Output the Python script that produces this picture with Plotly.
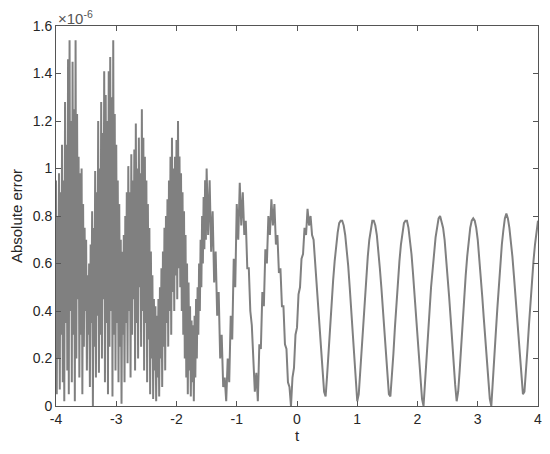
import numpy as np
import plotly.graph_objects as go

# sample times: finer where the error is noisy, then the regular grid
t_noisy = np.arange(-4, -1.5, 0.0125)
t_smooth = np.arange(-1.5, 4.0001, 0.025)
t = np.round(np.concatenate([t_noisy, t_smooth]), 4)

# absolute error (units of 1e-6)
err_noisy_e6 = [
    0.95, 0.05, 0.80, 0.20, 0.98, 0.07, 0.90, 0.30, 1.10, 0.10,
    0.95, 0.02, 1.28, 0.35, 1.10, 0.15, 1.46, 0.05, 1.54, 0.40,
    1.20, 0.10, 1.45, 0.30, 1.25, 0.02, 1.54, 0.20, 1.23, 0.45,
    1.05, 0.12, 0.98, 0.30, 1.00, 0.05, 0.85, 0.25, 0.75, 0.40,
    0.70, 0.15, 0.55, 0.30, 0.60, 0.08, 0.68, 0.35, 0.82, 0.00,
    0.75, 0.25, 0.99, 0.12, 0.90, 0.38, 1.20, 0.14, 1.00, 0.30,
    1.28, 0.20, 1.15, 0.45, 1.41, 0.10, 1.31, 0.35, 1.20, 0.05,
    1.41, 0.25, 1.47, 0.40, 1.30, 0.04, 1.54, 0.30, 1.23, 0.15,
    1.10, 0.35, 0.95, 0.10, 0.85, 0.25, 0.70, 0.01, 0.65, 0.30,
    0.72, 0.10, 0.80, 0.35, 0.90, 0.18, 1.01, 0.40, 0.90, 0.12,
    1.06, 0.30, 0.95, 0.45, 1.08, 0.15, 1.19, 0.35, 1.00, 0.20,
    1.13, 0.50, 0.98, 0.25, 1.25, 0.40, 1.13, 0.15, 1.05, 0.35,
    0.95, 0.10, 0.85, 0.28, 0.75, 0.05, 0.65, 0.20, 0.55, 0.03,
    0.45, 0.15, 0.42, 0.02, 0.38, 0.12, 0.45, 0.04, 0.50, 0.20,
    0.58, 0.08, 0.65, 0.25, 0.75, 0.15, 0.80, 0.35, 0.87, 0.25,
    0.95, 0.40, 1.05, 0.30, 1.13, 0.48, 1.00, 0.40, 1.05, 0.55,
    1.12, 0.45, 1.20, 0.58, 1.05, 0.50, 0.98, 0.40, 0.90, 0.30,
    0.82, 0.20, 0.72, 0.12, 0.60, 0.05, 0.52, 0.15, 0.42, 0.04,
    0.36, 0.10, 0.34, 0.02, 0.38, 0.12, 0.45, 0.20, 0.50, 0.30,
    0.60, 0.40, 0.70, 0.50, 0.80, 0.60, 0.88, 0.66, 0.95, 0.70,
]

err_smooth_e6 = [
    1.00, 0.72, 0.95, 0.65, 0.82, 0.52, 0.65, 0.38, 0.48, 0.20,
    0.30, 0.08, 0.12, 0.02, 0.20, 0.10, 0.38, 0.28, 0.62, 0.50,
    0.85, 0.70, 0.94, 0.76, 0.90, 0.72, 0.78, 0.58, 0.58, 0.40,
    0.34, 0.16, 0.06, 0.14, 0.02, 0.26, 0.24, 0.48, 0.42, 0.66,
    0.60, 0.80, 0.72, 0.87, 0.76, 0.85, 0.68, 0.72, 0.56, 0.58,
    0.42, 0.42, 0.26, 0.24, 0.10, 0.08, 0.00, 0.12, 0.16, 0.30,
    0.33, 0.47, 0.50, 0.62, 0.64, 0.75, 0.72, 0.83, 0.76, 0.80,
    0.72, 0.70, 0.60, 0.55, 0.44, 0.35, 0.25, 0.15, 0.06, 0.04,
    0.13, 0.24, 0.34, 0.44, 0.53, 0.61, 0.68, 0.73, 0.77, 0.78,
    0.78, 0.76, 0.72, 0.66, 0.59, 0.50, 0.41, 0.31, 0.21, 0.11,
    0.02, 0.05, 0.15, 0.26, 0.36, 0.46, 0.55, 0.63, 0.70, 0.75,
    0.78, 0.78, 0.76, 0.72, 0.66, 0.58, 0.50, 0.41, 0.31, 0.21,
    0.12, 0.05, 0.04, 0.12, 0.22, 0.33, 0.43, 0.52, 0.61, 0.68,
    0.74, 0.77, 0.78, 0.78, 0.75, 0.70, 0.64, 0.56, 0.47, 0.38,
    0.28, 0.19, 0.10, 0.03, 0.00, 0.09, 0.19, 0.30, 0.40, 0.50,
    0.58, 0.65, 0.71, 0.75, 0.79, 0.80, 0.78, 0.75, 0.70, 0.63,
    0.55, 0.46, 0.37, 0.27, 0.18, 0.09, 0.02, 0.06, 0.15, 0.26,
    0.36, 0.46, 0.55, 0.63, 0.70, 0.75, 0.78, 0.79, 0.78, 0.75,
    0.70, 0.63, 0.55, 0.46, 0.37, 0.28, 0.19, 0.10, 0.03, 0.00,
    0.09, 0.20, 0.31, 0.41, 0.51, 0.60, 0.68, 0.74, 0.79, 0.81,
    0.79, 0.75, 0.70, 0.63, 0.55, 0.46, 0.37, 0.28, 0.19, 0.11,
    0.05, 0.06, 0.14, 0.24, 0.34, 0.44, 0.53, 0.61, 0.68, 0.74,
    0.78,
]

x_ticks = [-4, -3, -2, -1, 0, 1, 2, 3, 4]
y_ticks = [0, 0.2, 0.4, 0.6, 0.8, 1, 1.2, 1.4, 1.6]

err = np.array(err_noisy_e6 + err_smooth_e6) * 1e-6

fig = go.Figure()
fig.add_trace(go.Scatter(
    x=t, y=err, mode='lines',
    line=dict(color='#808080', width=2),
    showlegend=False
))

font_name = 'Liberation Sans, Arial'
axis_style = dict(
    showline=True, linecolor='#555555', linewidth=1, mirror='ticks',
    ticks='inside', ticklen=5, tickcolor='#555555',
    showgrid=False, zeroline=False, automargin=False,
    tickfont=dict(family=font_name, size=14, color='#262626'),
)

fig.update_xaxes(
    range=[-4, 4], tickvals=x_ticks, ticktext=[str(v) for v in x_ticks],
    title=dict(text='t', font=dict(family=font_name, size=15, color='#262626'), standoff=4),
    **axis_style
)
fig.update_yaxes(
    range=[0, 1.6e-6], tickvals=[v * 1e-6 for v in y_ticks], ticktext=[f'{v:g}' for v in y_ticks],
    title=dict(text='Absolute error', font=dict(family=font_name, size=15, color='#262626'), standoff=8),
    **axis_style
)

fig.add_annotation(
    x=0, y=1, xref='paper', yref='paper', xanchor='left', yanchor='bottom',
    text='×10<sup>-6</sup>', showarrow=False, yshift=-3,
    font=dict(family=font_name, size=15, color='#555555')
)

# page body keeps an 8px margin, so the figure is sized to land the axes where the original has them
fig.update_layout(
    width=542, height=446,
    margin=dict(l=48, r=12, t=18, b=48),
    plot_bgcolor='white', paper_bgcolor='white'
)

fig.write_html("out.html")
